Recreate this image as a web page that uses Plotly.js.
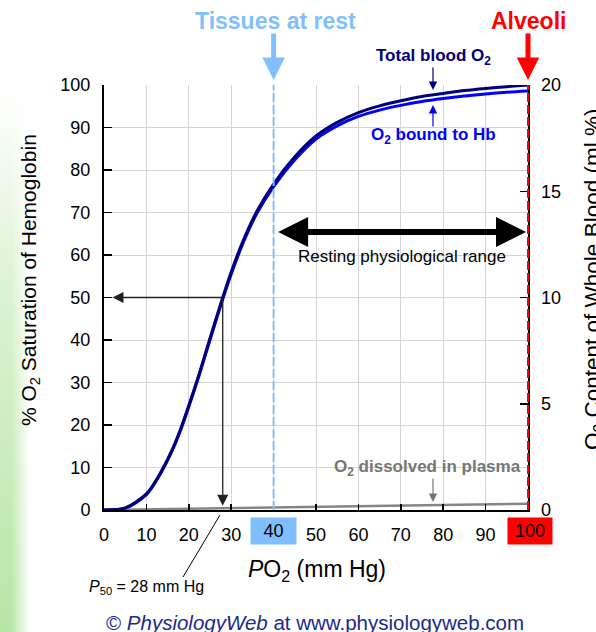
<!DOCTYPE html>
<html><head><meta charset="utf-8">
<script src="https://cdn.plot.ly/plotly-3.0.1.min.js"></script>
<style>
html,body{margin:0;padding:0;background:#fff;}
#wrap{position:relative;width:596px;height:632px;overflow:hidden;background:#fff;}
#bg{position:absolute;left:0;top:0;width:30px;height:632px;
 background:linear-gradient(to right, rgba(255,255,255,0) 0%, rgba(255,255,255,0) 38%, rgba(255,255,255,1) 100%),
            linear-gradient(to bottom, #ffffff 14%, #dcf3d2 45%, #b6e6a6 100%);}
#chart{position:absolute;left:0;top:0;width:596px;height:632px;}
</style></head><body>
<div id="wrap"><div id="bg"></div><div id="chart"></div></div>
<script>
// ---- data ----
const po2 = [0, 5, 10, 13, 16, 18, 20, 22.5, 25, 28, 30, 33, 36, 40, 45, 50, 55, 60, 65, 70, 75, 80, 85, 90, 95, 100];
const hbBound = [0, 0.4, 3.6, 8.0, 13.8, 18.6, 24.3, 31.9, 40.0, 49.6, 55.5, 63.3, 69.7, 76.1, 82.4, 87.3, 90.4, 92.6, 94.1, 95.2, 96.1, 96.8, 97.4, 97.9, 98.3, 98.6];
const totalO2 = [0, 0.5, 3.8, 8.2, 14.0, 18.9, 24.6, 32.2, 40.4, 50.0, 56.0, 63.8, 70.2, 76.7, 83.1, 88.0, 91.2, 93.5, 95.1, 96.3, 97.3, 98.0, 98.7, 99.2, 99.6, 100];
const po2Dissolved = [0, 20, 40, 60, 80, 100];
const dissolvedO2 = [0, 0.3, 0.6, 0.9, 1.2, 1.5];
const xTicks = [0, 10, 20, 30, 40, 50, 60, 70, 80, 90, 100];
const yTicks = [0, 10, 20, 30, 40, 50, 60, 70, 80, 90, 100];
const y2Ticks = [0, 5, 10, 15, 20];
const tissuePO2 = 40;
const alveolarPO2 = 100;
const p50 = 28;
const halfSat = 50;

// ---- layout helpers (pixel -> paper) ----
const W = 596, H = 632, L = 104, R = 68, T = 85, B = 122;
const PW = W - L - R, PH = H - T - B;
const px = x => (x - L) / PW;
const py = y => (H - B - y) / PH;
const FONT = 'Arial, "Liberation Sans", sans-serif';

const traces = [
  {x: po2Dissolved, y: dissolvedO2, mode: 'lines', line: {color: '#858585', width: 2.5}, hoverinfo: 'skip'},
  {x: po2, y: hbBound, mode: 'lines', line: {color: '#0000ff', width: 3, shape: 'spline', smoothing: 0.8}, hoverinfo: 'skip'},
  {x: po2, y: totalO2, mode: 'lines', line: {color: '#00007a', width: 3, shape: 'spline', smoothing: 0.8}, hoverinfo: 'skip'},
  {x: [0, 100], y: [0, 20], yaxis: 'y2', mode: 'lines', line: {width: 0}, opacity: 0, hoverinfo: 'skip'}
];

function txt(x, y, text, size, color, extra) {
  return Object.assign({xref: 'paper', yref: 'paper', x: px(x), y: py(y), text: text, showarrow: false,
    xanchor: 'center', yanchor: 'middle', font: {family: FONT, size: size, color: color}}, extra || {});
}
function parrow(x, y1, y2, color, w, size) {
  return {xref: 'paper', yref: 'paper', x: px(x), y: py(y2), ax: 0, ay: y1 - y2, text: '',
    showarrow: true, arrowhead: 2, arrowsize: size, arrowwidth: w, arrowcolor: color};
}

const annotations = [
  txt(275, 21, '<b>Tissues at rest</b>', 23, '#80c0ff'),
  txt(528, 21, '<b>Alveoli</b>', 23, '#ff0000'),
  {xref: 'x', yref: 'paper', x: tissuePO2, y: py(80), ax: 0, ay: -48, text: '', showarrow: true,
    arrowhead: 2, arrowsize: 0.9, arrowwidth: 5, arrowcolor: '#80c0ff'},
  {xref: 'x', yref: 'paper', x: alveolarPO2, y: py(80), ax: 0, ay: -48, text: '', showarrow: true,
    arrowhead: 2, arrowsize: 0.9, arrowwidth: 5, arrowcolor: '#ff0000'},
  txt(433, 57, '<b>Total blood O<sub>2</sub></b>', 17, '#00007a'),
  parrow(433, 66, 90, '#00007a', 1.2, 1.4),
  txt(433, 136, '<b>O<sub>2</sub> bound to Hb</b>', 17, '#0000ff'),
  parrow(433, 128, 105, '#0000ff', 1.2, 1.4),
  {xref: 'x', yref: 'y', x: alveolarPO2, y: 65.4, axref: 'x', ayref: 'y', ax: tissuePO2, ay: 65.4,
    text: '', showarrow: true, arrowside: 'end+start', arrowhead: 2, startarrowhead: 2,
    arrowsize: 1, startarrowsize: 1, arrowwidth: 6, arrowcolor: '#000', standoff: 2, startstandoff: 3},
  txt(402, 256, 'Resting physiological range', 17, '#000'),
  txt(427, 468, '<b>O<sub>2</sub> dissolved in plasma</b>', 17, '#767676'),
  parrow(433, 477, 502, '#767676', 1.2, 1.4),
  {xref: 'x', yref: 'y', x: 2, y: halfSat, axref: 'x', ayref: 'y', ax: p50, ay: halfSat, text: '',
    showarrow: true, arrowhead: 2, arrowsize: 1.7, arrowwidth: 1.3, arrowcolor: '#222'},
  {xref: 'x', yref: 'y', x: p50, y: 1, axref: 'x', ayref: 'y', ax: p50, ay: halfSat, text: '',
    showarrow: true, arrowhead: 2, arrowsize: 1.7, arrowwidth: 1.3, arrowcolor: '#222'},
  txt(146, 587, '<i>P</i><sub>50</sub> = 28 mm Hg', 16, '#000'),
  txt(317, 570, '<i>P</i>O<sub>2</sub> (mm Hg)', 23, '#000'),
  txt(30, 280, '% O<sub>2</sub> Saturation of Hemoglobin', 21, '#000', {textangle: -90}),
  txt(594, 280, 'O<sub>2</sub> Content of Whole Blood (ml %)', 22.5, '#000', {textangle: -90}),
  txt(315, 622, '© <i>PhysiologyWeb</i> at www.physiologyweb.com', 20.5, '#1b2a8c'),
  {xref: 'x', yref: 'paper', x: tissuePO2, y: py(531), text: String(tissuePO2), showarrow: false,
    xanchor: 'center', yanchor: 'middle', width: 43, height: 24, bgcolor: '#80bfff',
    font: {family: FONT, size: 18, color: '#000'}},
  {xref: 'paper', yref: 'paper', x: px(530), y: py(531), text: String(alveolarPO2), showarrow: false,
    xanchor: 'center', yanchor: 'middle', width: 42, height: 24, bgcolor: '#ff0000',
    font: {family: FONT, size: 18, color: '#000'}}
];

const shapes = [
  {type: 'line', xref: 'x', yref: 'paper', x0: tissuePO2, x1: tissuePO2, y0: 0, y1: 1,
    line: {color: '#80c0ff', width: 2, dash: '9px,3px'}, layer: 'above'},
  {type: 'line', xref: 'paper', yref: 'paper', x0: alveolarPO2 / 100, x1: alveolarPO2 / 100, y0: 0, y1: 1,
    line: {color: '#ff0000', width: 2, dash: '9px,3px'}, layer: 'above'},
  {type: 'line', xref: 'paper', yref: 'paper', x0: px(183), y0: py(577), x1: px(220), y1: py(515),
    line: {color: '#000', width: 1}}
];

const layout = {
  width: W, height: H,
  margin: {l: L, r: R, t: T, b: B, pad: 0},
  paper_bgcolor: 'rgba(0,0,0,0)', plot_bgcolor: 'rgba(0,0,0,0)',
  showlegend: false, hovermode: false,
  font: {family: FONT, color: '#000'},
  xaxis: {range: [0, 100], tickvals: xTicks,
    ticktext: xTicks.map(v => (v === tissuePO2 || v === alveolarPO2) ? '' : String(v)),
    ticks: 'inside', ticklen: 6, tickwidth: 1.5, tickcolor: '#000',
    showline: true, linecolor: '#000', linewidth: 1.5,
    showgrid: true, gridcolor: '#d4d4d4', gridwidth: 1, zeroline: false,
    tickfont: {family: FONT, size: 18, color: '#000'}, ticklabelstandoff: 8, fixedrange: true},
  yaxis: {range: [0, 100], tickvals: yTicks, ticks: 'inside', ticklen: 8, tickwidth: 1.5, tickcolor: '#000',
    showline: true, linecolor: '#000', linewidth: 2,
    showgrid: true, gridcolor: '#d4d4d4', gridwidth: 1, zeroline: false,
    tickfont: {family: FONT, size: 18, color: '#000'}, ticklabelstandoff: 8, fixedrange: true},
  yaxis2: {range: [0, 20], tickvals: y2Ticks, overlaying: 'y', side: 'right',
    ticks: 'inside', ticklen: 8, tickwidth: 1.5, tickcolor: '#000',
    showline: true, linecolor: '#000', linewidth: 1.5, showgrid: false, zeroline: false,
    tickfont: {family: FONT, size: 18, color: '#000'}, ticklabelstandoff: 8, fixedrange: true},
  annotations: annotations,
  shapes: shapes
};

Plotly.newPlot('chart', traces, layout, {displayModeBar: false, staticPlot: true});
</script>
</body></html>
